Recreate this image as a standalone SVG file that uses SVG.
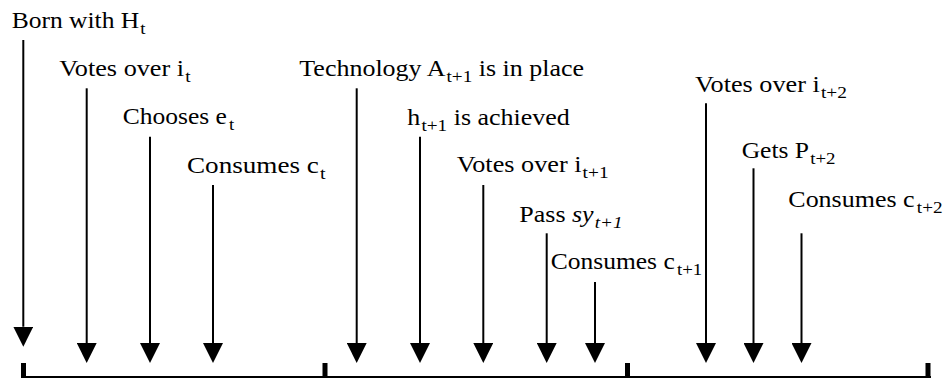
<svg xmlns="http://www.w3.org/2000/svg" width="943" height="378" viewBox="0 0 943 378">
<style>
.lbl{font-size:23px;fill:#000}
.sub{font-size:17px}
.it{font-style:italic}
.arr{stroke:#000;stroke-width:2;fill:none;marker-end:url(#head)}
.tick{fill:#000}
</style>
<defs>
<marker id="head" markerUnits="userSpaceOnUse" viewBox="0 0 20 20" refX="0" refY="10" markerWidth="20" markerHeight="20" orient="auto">
<path d="M0,0 L20,10 L0,20 z" fill="#000"/>
</marker>
</defs>
<rect width="943" height="378" fill="#fff"/>
<g id="timeline">
<rect x="21" y="376" width="910" height="2" class="tick"/>
<rect x="21" y="363" width="5" height="15" class="tick"/>
<rect x="322.5" y="363" width="5" height="15" class="tick"/>
<rect x="625" y="363" width="5" height="15" class="tick"/>
<rect x="925.5" y="363" width="5" height="15" class="tick"/>
</g>
<g id="labels" font-family="Liberation Serif, Times New Roman, serif">
<g id="n1"><text class="lbl" transform="translate(11.7,28.3) scale(1.11,1)">Born with H<tspan class="sub" dx="1" dy="6">t</tspan></text></g>
<g id="n2"><text class="lbl" transform="translate(59.3,76) scale(1.14,1)">Votes over i<tspan class="sub" dx="1" dy="6">t</tspan></text></g>
<g id="n3"><text class="lbl" transform="translate(122.7,124.3) scale(1.11,1)">Chooses e<tspan class="sub" dx="2" dy="6">t</tspan></text></g>
<g id="n4"><text class="lbl" transform="translate(187,173.3) scale(1.18,1)">Consumes c<tspan class="sub" dx="1" dy="6">t</tspan></text></g>
<g id="n5"><text class="lbl" transform="translate(299.3,76) scale(1.13,1)">Technology A<tspan class="sub" dx="1" dy="6">t+1</tspan><tspan dy="-6"> is in place</tspan></text></g>
<g id="n6"><text class="lbl" transform="translate(407.3,125) scale(1.13,1)">h<tspan class="sub" dx="1" dy="6">t+1</tspan><tspan dy="-6"> is achieved</tspan></text></g>
<g id="n7"><text class="lbl" transform="translate(456.7,172.3) scale(1.14,1)">Votes over i<tspan class="sub" dx="1" dy="6">t+1</tspan></text></g>
<g id="n8"><text class="lbl" transform="translate(519.3,221.7) scale(1.13,1)">Pass <tspan class="it">sy</tspan><tspan class="sub it" dx="1" dy="6">t+1</tspan></text></g>
<g id="n9"><text class="lbl" transform="translate(550.7,269.3) scale(1.11,1)">Consumes c<tspan class="sub" dx="2" dy="6">t+1</tspan></text></g>
<g id="n10"><text class="lbl" transform="translate(695,92.3) scale(1.14,1)">Votes over i<tspan class="sub" dx="1" dy="6">t+2</tspan></text></g>
<g id="n11"><text class="lbl" transform="translate(741.7,157.7) scale(1.11,1)">Gets P<tspan class="sub" dx="1" dy="6">t+2</tspan></text></g>
<g id="n12"><text class="lbl" transform="translate(788.3,206.7) scale(1.13,1)">Consumes c<tspan class="sub" dx="2" dy="6">t+2</tspan></text></g>
</g>
<g id="connectors">
<line class="arr" x1="23.3" y1="40" x2="23.3" y2="326.7"/>
<line class="arr" x1="86.7" y1="88.3" x2="86.7" y2="343"/>
<line class="arr" x1="150" y1="136.7" x2="150" y2="343"/>
<line class="arr" x1="213" y1="185" x2="213" y2="343"/>
<line class="arr" x1="356.7" y1="88.3" x2="356.7" y2="343"/>
<line class="arr" x1="420" y1="136.7" x2="420" y2="343"/>
<line class="arr" x1="483.3" y1="185" x2="483.3" y2="343"/>
<line class="arr" x1="546.7" y1="233.3" x2="546.7" y2="343"/>
<line class="arr" x1="595" y1="282" x2="595" y2="343"/>
<line class="arr" x1="706" y1="103.3" x2="706" y2="343"/>
<line class="arr" x1="753.5" y1="168.3" x2="753.5" y2="343"/>
<line class="arr" x1="801.5" y1="233.3" x2="801.5" y2="343"/>
</g>
</svg>
